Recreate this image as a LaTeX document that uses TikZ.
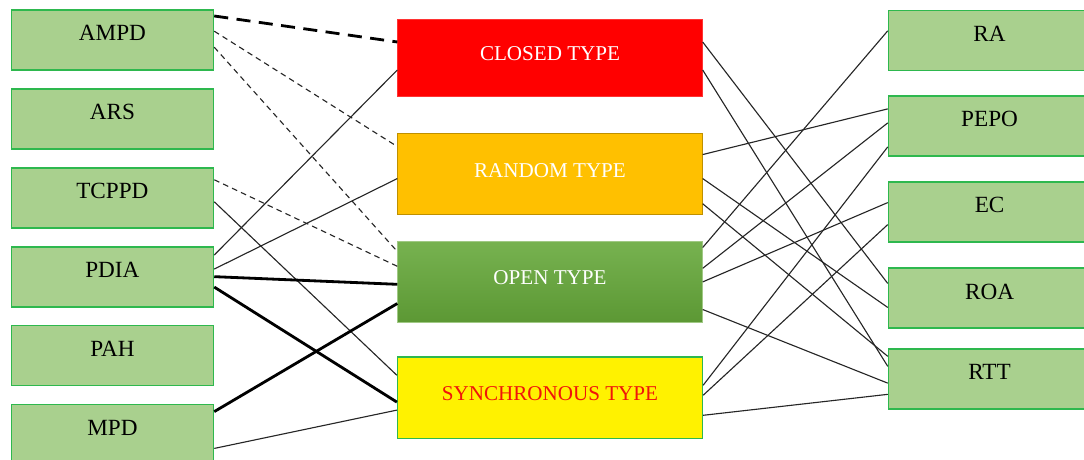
\documentclass[tikz,border=0pt]{standalone}
\usepackage{fontspec}
\setmainfont{Liberation Serif}
\usetikzlibrary{positioning}

\definecolor{leafgreen}{RGB}{169,208,142}
\definecolor{edgegreen}{RGB}{46,184,78}
\definecolor{amber}{RGB}{255,192,0}
\definecolor{amberedge}{RGB}{191,144,0}
\definecolor{opentop}{RGB}{119,178,80}
\definecolor{openbottom}{RGB}{92,152,52}
\definecolor{syncred}{RGB}{240,20,10}

\tikzset{
    sidebox/.style={draw=edgegreen, line width=1.2pt, fill=leafgreen, minimum width=5.05cm, minimum height=1.5cm, text depth=0.34cm, font=\fontsize{16.5}{18}\selectfont},
    typebox/.style={minimum width=7.62cm, minimum height=2.03cm, text depth=0.2cm, font=\fontsize{15}{17}\selectfont},
    thinlink/.style={line width=0.8pt, black!85},
    boldlink/.style={line width=2pt, black},
    dashlink/.style={thinlink, dash pattern=on 4pt off 3pt},
    bolddash/.style={boldlink, dash pattern=on 10pt off 6pt}
}

\begin{document}
\begin{tikzpicture}
    \useasboundingbox (0,0) rectangle (27.1,-11.5);
    \clip (0,0) rectangle (27.1,-11.5);

    % left column
    \node (ampd) [sidebox] at (2.81,-1.0) {AMPD};
    \node (ars) [sidebox, below=0.43cm of ampd] {ARS};
    \node (tcppd) [sidebox, below=0.43cm of ars] {TCPPD};
    \node (pdia) [sidebox, below=0.43cm of tcppd] {PDIA};
    \node (pah) [sidebox, below=0.43cm of pdia] {PAH};
    \node (mpd) [sidebox, below=0.43cm of pah] {MPD};

    % middle column
    \node (closed) [typebox, fill=red, draw=red!80!white, minimum height=1.93cm, text=white] at (13.75,-1.44) {CLOSED TYPE};
    \node (random) [typebox, fill=amber, draw=amberedge, text=white, below=0.92cm of closed] {RANDOM TYPE};
    \node (open) [typebox, top color=opentop, bottom color=openbottom, draw=opentop!70!white, text=white, below=0.65cm of random] {OPEN TYPE};
    \node (sync) [typebox, fill=yellow, draw=edgegreen, line width=1pt, text=syncred, below=0.84cm of open] {SYNCHRONOUS TYPE};

    % right column
    \node (ra) [sidebox] at (24.74,-1.01) {RA};
    \node (pepo) [sidebox, below=0.6cm of ra] {PEPO};
    \node (ec) [sidebox, below=0.6cm of pepo] {EC};
    \node (roa) [sidebox, below=0.62cm of ec] {ROA};
    \node (rtt) [sidebox, below=0.48cm of roa] {RTT};

    % left links
    \draw [bolddash] ([yshift=0.6cm]ampd.east) -- ([yshift=0.39cm]closed.west);
    \draw [dashlink] ([yshift=0.22cm]ampd.east) -- ([yshift=0.69cm]random.west);
    \draw [dashlink] ([yshift=-0.18cm]ampd.east) -- ([yshift=0.76cm]open.west);
    \draw [dashlink] ([yshift=0.45cm]tcppd.east) -- ([yshift=0.39cm]open.west);
    \draw [thinlink] ([yshift=-0.1cm]tcppd.east) -- ([yshift=0.56cm]sync.west);
    \draw [thinlink] ([yshift=0.54cm]pdia.east) -- ([yshift=-0.31cm]closed.west);
    \draw [thinlink] ([yshift=0.19cm]pdia.east) -- ([yshift=-0.11cm]random.west);
    \draw [boldlink] (pdia.east) -- ([yshift=-0.06cm]open.west);
    \draw [boldlink] ([yshift=-0.26cm]pdia.east) -- ([yshift=-0.11cm]sync.west);
    \draw [boldlink] ([yshift=0.57cm]mpd.east) -- ([yshift=-0.54cm]open.west);
    \draw [thinlink] ([yshift=-0.35cm]mpd.east) -- ([yshift=-0.31cm]sync.west);

    % right links
    \draw [thinlink] ([yshift=0.39cm]closed.east) -- ([yshift=0.37cm]roa.west);
    \draw [thinlink] ([yshift=-0.31cm]closed.east) -- ([yshift=0.32cm]rtt.west);
    \draw [thinlink] ([yshift=0.49cm]random.east) -- ([yshift=0.43cm]pepo.west);
    \draw [thinlink] ([yshift=-0.11cm]random.east) -- ([yshift=-0.23cm]roa.west);
    \draw [thinlink] ([yshift=-0.74cm]random.east) -- ([yshift=0.57cm]rtt.west);
    \draw [thinlink] ([yshift=0.86cm]open.east) -- ([yshift=0.24cm]ra.west);
    \draw [thinlink] ([yshift=0.34cm]open.east) -- ([yshift=0.08cm]pepo.west);
    \draw [thinlink] (open.east) -- ([yshift=0.23cm]ec.west);
    \draw [thinlink] ([yshift=-0.69cm]open.east) -- ([yshift=-0.1cm]rtt.west);
    \draw [thinlink] ([yshift=0.31cm]sync.east) -- ([yshift=-0.52cm]pepo.west);
    \draw [thinlink] ([yshift=0.06cm]sync.east) -- ([yshift=-0.32cm]ec.west);
    \draw [thinlink] ([yshift=-0.44cm]sync.east) -- ([yshift=-0.38cm]rtt.west);
\end{tikzpicture}
\end{document}
